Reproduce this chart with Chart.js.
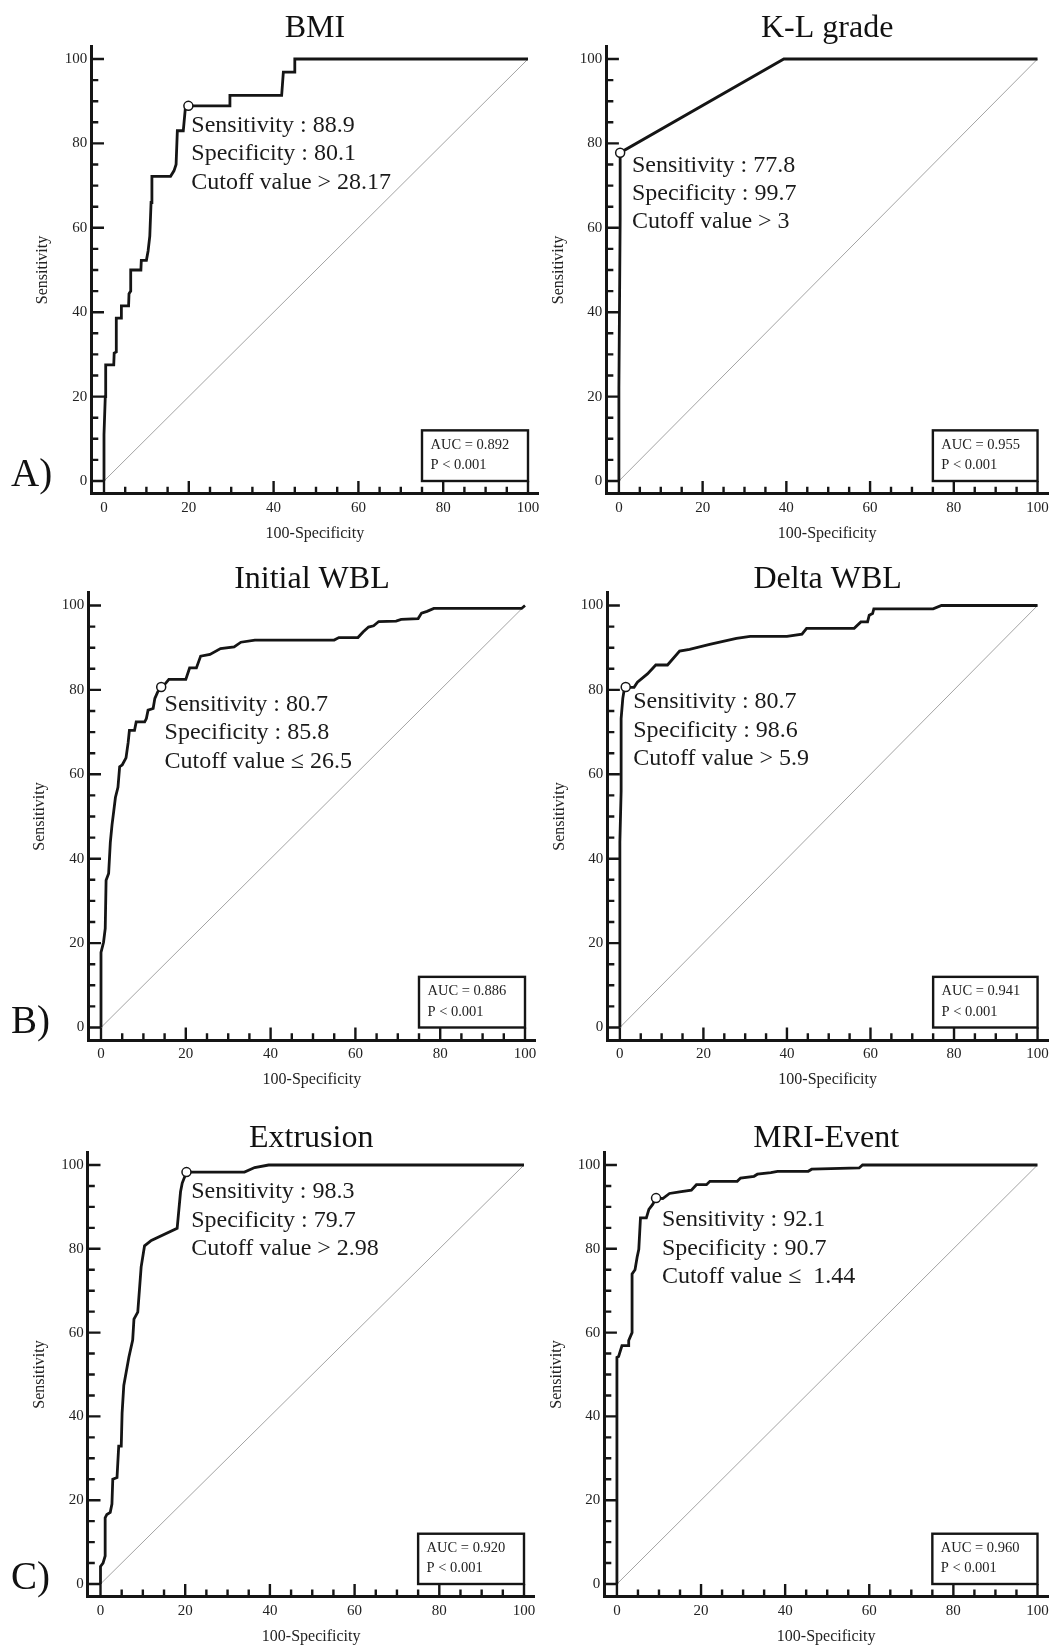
<!DOCTYPE html>
<html>
<head>
<meta charset="utf-8">
<title>ROC curves</title>
<script src="https://cdn.jsdelivr.net/npm/chart.js@4.4.1/dist/chart.umd.min.js"></script>
<style>
  html, body { margin: 0; padding: 0; background: #fff; overflow: hidden; }
  #figure { position: relative; width: 1054px; height: 1652px; }
  #figure canvas { position: absolute; }
</style>
</head>
<body>
<div id="figure"></div>
<script>
const titles = ['BMI', 'K-L grade', 'Initial WBL', 'Delta WBL', 'Extrusion', 'MRI-Event'];
const aucValues = ['0.892', '0.955', '0.886', '0.941', '0.920', '0.960'];
const pValues = ['< 0.001', '< 0.001', '< 0.001', '< 0.001', '< 0.001', '< 0.001'];
const cutoffSensitivity = [88.9, 77.8, 80.7, 80.7, 98.3, 92.1];
const cutoffSpecificity = [80.1, 99.7, 85.8, 98.6, 79.7, 90.7];
const cutoffCriteria = ['> 28.17', '> 3', '\u2264 26.5', '> 5.9', '> 2.98', '\u2264  1.44'];
const axisTicks = [0, 20, 40, 60, 80, 100];

// ROC curves: 100-specificity / sensitivity
const bmiFpr = [0, 0, 0.3, 0.4, 2.3, 2.4, 2.9, 2.9, 4.1, 4.1, 5.8, 5.9, 6.3, 6.3, 8.7, 8.8, 10, 10.4, 10.8, 11.1, 11.3, 15.7, 16.5, 17, 17.3, 18.7, 19.2, 19.9, 29.5, 29.7, 41.9, 42.3, 45, 45, 100];
const bmiSens = [0, 11, 20, 27.5, 27.5, 30.3, 30.6, 38.6, 38.6, 41.5, 41.5, 44.4, 45, 50, 50, 52.3, 52.3, 54.5, 58, 66, 72.2, 72.2, 73.5, 75, 83, 83, 88.5, 88.9, 88.9, 91.4, 91.4, 96.9, 96.9, 100, 100];

const klFpr = [0, 0, 0.3, 0.3, 39.4, 100];
const klSens = [0, 22, 62, 77.8, 100, 100];

const initialWblFpr = [0, 0, 0.6, 1, 1.2, 1.8, 2.2, 2.6, 3, 3.4, 4, 4.4, 5, 5.9, 6.4, 6.7, 7.9, 8.3, 10.3, 10.7, 11.1, 12.3, 12.7, 13.4, 14.2, 15.2, 16, 20, 20.9, 22.5, 23.5, 25.7, 28.2, 31.4, 33, 36.3, 55, 56.1, 60.6, 61.8, 63.1, 64.3, 65.5, 69.6, 70.8, 74.8, 75.6, 76.9, 78.5, 99.2, 100];
const initialWblSens = [0, 17.8, 20.2, 23.5, 34.9, 36.5, 43.9, 48, 51.2, 54.5, 56.9, 61.8, 62.2, 63.9, 67.5, 70.4, 70.4, 72.4, 72.4, 73.2, 75.2, 75.6, 78, 79.6, 80.7, 81.5, 82.5, 82.5, 85.2, 85.2, 88, 88.4, 89.8, 90.2, 91.3, 91.8, 91.8, 92.4, 92.4, 93.7, 94.9, 95.2, 96.2, 96.3, 96.7, 96.9, 98.2, 98.6, 99.3, 99.3, 100];

const deltaWblFpr = [0, 0, 0.3, 0.3, 0.7, 1, 1.4, 2.2, 3.4, 4.2, 6.6, 8.6, 11.4, 14.3, 16.7, 21.5, 27.9, 31.2, 40, 43.6, 44.7, 56.1, 57.7, 59.3, 59.7, 60.5, 60.8, 75, 77, 100];
const deltaWblSens = [0, 43.9, 56, 73.2, 78, 79.8, 80.7, 80.6, 80.6, 81.8, 83.8, 85.9, 85.9, 89.2, 89.6, 90.8, 92.2, 92.7, 92.7, 93.2, 94.6, 94.6, 96.1, 96.1, 97.7, 98.1, 99.2, 99.2, 100, 100];

const extrusionFpr = [0, 0, 0.6, 1.1, 1.1, 1.5, 2.3, 2.7, 2.9, 3.9, 4.3, 4.9, 5.1, 5.5, 6.7, 7.6, 7.9, 8.8, 9.6, 10.4, 12, 18.1, 18.9, 19.3, 20.3, 34, 36.4, 39.7, 100];
const extrusionSens = [0, 4.2, 5, 6.7, 15.8, 16.6, 17.1, 19.1, 25, 25.4, 32.9, 32.9, 40.8, 47.4, 54.1, 58.2, 63.2, 64.9, 75.7, 80.7, 82, 84.9, 93.6, 95.7, 98.3, 98.3, 99.4, 100, 100];

const mriEventFpr = [0, 0, 0.4, 1.2, 2.7, 2.8, 3.6, 3.6, 4.3, 4.8, 5.2, 5.6, 7, 7.6, 8.5, 9.3, 10.9, 12.5, 14.9, 17.7, 18.9, 21.3, 22.1, 28.6, 29.4, 32.6, 33.4, 36.6, 38.2, 45.5, 46.3, 57.6, 58.4, 100];
const mriEventSens = [0, 54.1, 54.3, 56.9, 56.9, 58.1, 60, 74, 75, 78, 79.9, 87.4, 87.4, 89.4, 90.6, 92.1, 92, 93.2, 93.6, 94, 95.3, 95.3, 96.1, 96.1, 96.9, 97.3, 97.8, 98.2, 98.5, 98.5, 99, 99.3, 100, 100];

const curveFpr = [bmiFpr, klFpr, initialWblFpr, deltaWblFpr, extrusionFpr, mriEventFpr];
const curveSens = [bmiSens, klSens, initialWblSens, deltaWblSens, extrusionSens, mriEventSens];

// page layout: where each panel's 0 and 100 land, in page pixels
const panelBoxes = [
  { left: 0, top: 0, width: 545, height: 546, x0: 104, x100: 528, y100: 59, y0: 481, titleGap: 30, letter: 'A)', textAt: [20.6, 84.2] },
  { left: 527, top: 0, width: 527, height: 546, x0: 619, x100: 1041, y100: 59, y0: 481, titleGap: 30, letter: null, textAt: [3.1, 74.8] },
  { left: 0, top: 546, width: 545, height: 560, x0: 101, x100: 525, y100: 605.5, y0: 1027.5, titleGap: 25.5, letter: 'B)', textAt: [15, 76.5] },
  { left: 527, top: 546, width: 527, height: 560, x0: 620, x100: 1042, y100: 605.5, y0: 1027.5, titleGap: 25.5, letter: null, textAt: [3.2, 77.1] },
  { left: 0, top: 1106, width: 545, height: 546, x0: 100.5, x100: 524, y100: 1165, y0: 1584, titleGap: 26.5, letter: 'C)', textAt: [21.4, 93.6] },
  { left: 527, top: 1106, width: 527, height: 546, x0: 617, x100: 1040, y100: 1165, y0: 1584, titleGap: 26.5, letter: null, textAt: [10.7, 86.9] }
];
const aucBox = { left: 75, right: 100, top: 12, bottom: 0, textX: 77, lines: [8.6, 3.7] };

const X_MIN = -3;
const X_MAX = 102.5;
const Y_MIN = -3;
const Y_MAX = 103;
const Y_AXIS_W = 62;
const X_AXIS_H = 52;
const TITLE_SIZE = 32;
const TITLE_LINE = 0.8;
const INK = '#151515';
const SERIF = "'Liberation Serif', 'Times New Roman', serif";

function toPoints (xs, ys) {
  return xs.map((x, i) => ({ x, y: ys[i] }));
}

function setTicks (scale) {
  scale.ticks = axisTicks.map(value => ({ value }));
}

function framePlugin (i) {
  const box = panelBoxes[i];
  return {
    id: 'rocFrame',
    afterDraw (chart) {
      const { ctx, chartArea, scales: { x, y } } = chart;
      ctx.save();

      // tick marks point inward; major ones run up to the zero lines
      ctx.strokeStyle = INK;
      ctx.lineWidth = 2.4;
      ctx.beginPath();
      for (let v = 0; v <= 100; v += 5) {
        const major = v % 20 === 0;
        const px = x.getPixelForValue(v);
        const py = y.getPixelForValue(v);
        ctx.moveTo(px, chartArea.bottom);
        ctx.lineTo(px, major ? y.getPixelForValue(0) : chartArea.bottom - 7);
        ctx.moveTo(chartArea.left, py);
        ctx.lineTo(major ? x.getPixelForValue(0) : chartArea.left + 7, py);
      }
      ctx.stroke();

      const bl = x.getPixelForValue(aucBox.left);
      const br = x.getPixelForValue(aucBox.right);
      const bt = y.getPixelForValue(aucBox.top);
      const bb = y.getPixelForValue(aucBox.bottom);
      ctx.fillStyle = '#fff';
      ctx.fillRect(bl, bt, br - bl, bb - bt);
      ctx.strokeRect(bl, bt, br - bl, bb - bt);

      ctx.fillStyle = '#222';
      ctx.textAlign = 'left';
      ctx.textBaseline = 'middle';
      ctx.font = '14.5px ' + SERIF;
      ctx.fillText('AUC = ' + aucValues[i], x.getPixelForValue(aucBox.textX), y.getPixelForValue(aucBox.lines[0]));
      ctx.fillText('P ' + pValues[i], x.getPixelForValue(aucBox.textX), y.getPixelForValue(aucBox.lines[1]));

      const lines = [
        'Sensitivity : ' + cutoffSensitivity[i].toFixed(1),
        'Specificity : ' + cutoffSpecificity[i].toFixed(1),
        'Cutoff value ' + cutoffCriteria[i]
      ];
      ctx.fillStyle = '#1a1a1a';
      ctx.font = '24px ' + SERIF;
      const tx = x.getPixelForValue(box.textAt[0]);
      const ty = y.getPixelForValue(box.textAt[1]);
      lines.forEach((line, k) => ctx.fillText(line, tx, ty + k * 28.4));

      if (box.letter) {
        ctx.fillStyle = '#111';
        ctx.textBaseline = 'alphabetic';
        ctx.font = '39px ' + SERIF;
        ctx.fillText(box.letter, 11, y.getPixelForValue(0) + 5);
      }
      ctx.restore();
    }
  };
}

function makePanel (i) {
  const box = panelBoxes[i];
  const ppx = (box.x100 - box.x0) / 100;
  const ppy = (box.y0 - box.y100) / 100;
  const areaLeft = box.x0 - box.left + X_MIN * ppx;
  const areaRight = box.x0 - box.left + X_MAX * ppx;
  const areaTop = box.y0 - box.top - Y_MAX * ppy;
  const areaBottom = box.y0 - box.top - Y_MIN * ppy;
  const titleBottom = box.titleGap - (Y_MAX - 100) * ppy - TITLE_SIZE * TITLE_LINE / 2;
  const titleHeight = TITLE_SIZE * TITLE_LINE + titleBottom;

  const canvas = document.createElement('canvas');
  canvas.width = box.width;
  canvas.height = box.height;
  canvas.style.left = box.left + 'px';
  canvas.style.top = box.top + 'px';
  document.getElementById('figure').appendChild(canvas);

  const tickFont = { family: SERIF, size: 15 };
  const titleFont = { family: SERIF, size: 16 };

  // eslint-disable-next-line no-undef
  return new Chart(canvas, {
    type: 'scatter',
    data: {
      datasets: [
        {
          data: [{ x: 100 - cutoffSpecificity[i], y: cutoffSensitivity[i] }],
          pointRadius: 4.5,
          pointBackgroundColor: '#fff',
          pointBorderColor: INK,
          pointBorderWidth: 1.5,
          order: 0
        },
        {
          data: toPoints(curveFpr[i], curveSens[i]),
          showLine: true,
          borderColor: INK,
          borderWidth: 2.8,
          pointRadius: 0,
          order: 1
        },
        {
          data: [{ x: 0, y: 0 }, { x: 100, y: 100 }],
          showLine: true,
          borderColor: '#a3a3a3',
          borderWidth: 1,
          pointRadius: 0,
          order: 2
        }
      ]
    },
    options: {
      responsive: false,
      animation: false,
      events: [],
      layout: {
        padding: {
          left: areaLeft - Y_AXIS_W,
          right: box.width - areaRight,
          top: areaTop - titleHeight,
          bottom: box.height - areaBottom - X_AXIS_H
        }
      },
      plugins: {
        legend: { display: false },
        tooltip: { enabled: false },
        title: {
          display: true,
          text: titles[i],
          fullSize: false,
          color: '#111',
          font: { family: SERIF, size: TITLE_SIZE, weight: 'normal', lineHeight: TITLE_LINE },
          padding: { top: 0, bottom: titleBottom }
        }
      },
      scales: {
        x: {
          type: 'linear',
          min: X_MIN,
          max: X_MAX,
          afterBuildTicks: setTicks,
          afterFit: scale => { scale.height = X_AXIS_H; scale.paddingLeft = 0; scale.paddingRight = 0; },
          grid: { display: false, drawTicks: false },
          border: { display: true, width: 3, color: INK },
          ticks: { font: tickFont, color: '#222', padding: 5, maxRotation: 0, autoSkip: false },
          title: { display: true, text: '100-Specificity', font: titleFont, color: '#222', padding: { top: 0, bottom: 2.4 } }
        },
        y: {
          type: 'linear',
          min: Y_MIN,
          max: Y_MAX,
          afterBuildTicks: setTicks,
          afterFit: scale => { scale.width = Y_AXIS_W; scale.paddingTop = 0; scale.paddingBottom = 0; },
          grid: { display: false, drawTicks: false },
          border: { display: true, width: 3, color: INK },
          ticks: { font: tickFont, color: '#222', padding: 4, autoSkip: false },
          title: { display: true, text: 'Sensitivity', font: titleFont, color: '#222', padding: { top: 4.4, bottom: 0 } }
        }
      }
    },
    plugins: [framePlugin(i)]
  });
}

titles.forEach((title, i) => makePanel(i));
</script>
</body>
</html>
